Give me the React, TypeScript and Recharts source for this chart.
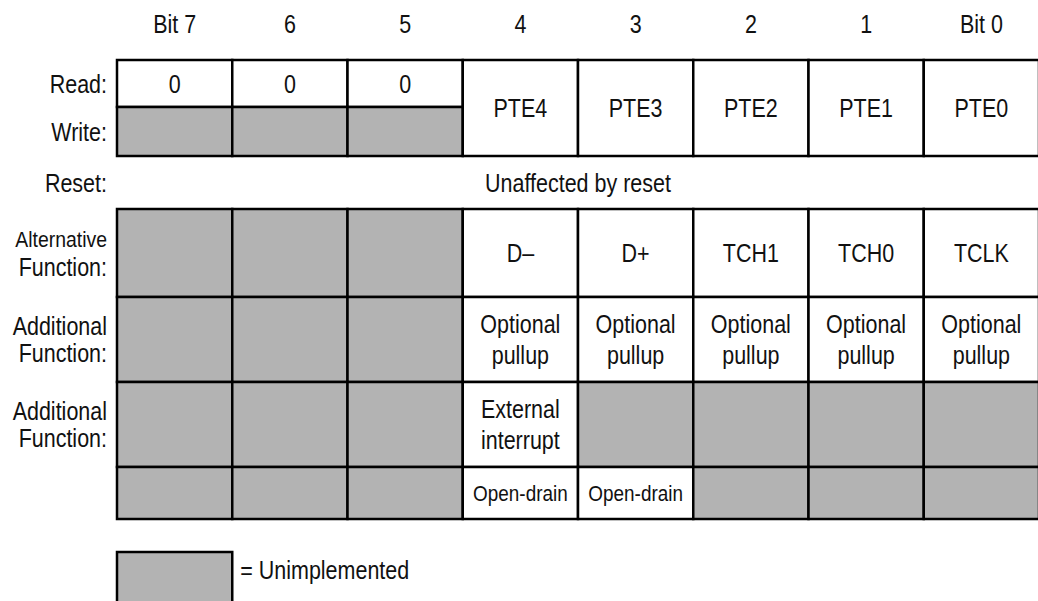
import { ComposedChart, XAxis, YAxis, ReferenceArea, Scatter } from "recharts"

// bit headers, left to right
const bitLabels = ["Bit 7", "6", "5", "4", "3", "2", "1", "Bit 0"]

// row labels (\n = line break)
const rowLabels = ["Read:", "Write:", "Reset:", "Alternative\nFunction:", "Additional\nFunction:", "Additional\nFunction:"]

// null = unimplemented bit
const readBits = ["0", "0", "0"] // bits 7..5
const writeBits: (string | null)[] = [null, null, null] // bits 7..5
const portBits = ["PTE4", "PTE3", "PTE2", "PTE1", "PTE0"] // bits 4..0, read + write
const resetText = "Unaffected by reset"
const altFunction = [null, null, null, "D–", "D+", "TCH1", "TCH0", "TCLK"]
const pullupFunction = [null, null, null, "Optional\npullup", "Optional\npullup", "Optional\npullup", "Optional\npullup", "Optional\npullup"]
const interruptFunction = [null, null, null, "External\ninterrupt", null, null, null, null]
const drainFunction = [null, null, null, "Open-drain", "Open-drain", null, null, null]
const legendText = "= Unimplemented"

// layout (px-ish row heights): read, write, reset, alt, add, add, drain, gap
const ROW_HEIGHTS = [47, 49, 53, 88, 85, 85, 52, 33]
const edges = ROW_HEIGHTS.reduce((acc, h) => [...acc, acc[acc.length - 1] + h], [0])
const Y_MAX = 541
// no narrow face installed, so squeeze Liberation Sans horizontally
const FONT = "'Liberation Sans', Arial, sans-serif"
const SX = 0.86
const GRAY = "#b3b3b3"
const FS = 25

type Cell = { col: number; r0: number; r1: number; text: string | null; size?: number }

const cells: Cell[] = []
readBits.forEach((t, i) => cells.push({ col: i, r0: 0, r1: 1, text: t }))
writeBits.forEach((t, i) => cells.push({ col: i, r0: 1, r1: 2, text: t }))
portBits.forEach((t, i) => cells.push({ col: 3 + i, r0: 0, r1: 2, text: t }))
altFunction.forEach((t, i) => cells.push({ col: i, r0: 3, r1: 4, text: t }))
pullupFunction.forEach((t, i) => cells.push({ col: i, r0: 4, r1: 5, text: t }))
interruptFunction.forEach((t, i) => cells.push({ col: i, r0: 5, r1: 6, text: t }))
drainFunction.forEach((t, i) => cells.push({ col: i, r0: 6, r1: 7, text: t, size: 22 }))

const rowCenter = (r: number) => (edges[r] + edges[r + 1]) / 2
const yTicks = rowLabels.map((_, i) => rowCenter(i))

// cell centres, so the axes have a series to hang on
const centers = cells.map(c => ({ x: c.col + 0.5, y: (edges[c.r0] + edges[c.r1]) / 2 }))

function Lines({ cx, cy, text, size = FS, anchor = "middle", lh = 31, sizes }: any) {
    const lines = String(text).split("\n")
    return (
        <g transform={`translate(${cx},${cy}) scale(${SX},1)`}>
            <text fontFamily={FONT} fill="#111" textAnchor={anchor}>
                {lines.map((ln, i) => {
                    const fs = sizes ? sizes[i] : size
                    return (
                        <tspan key={i} x={0} y={(i - (lines.length - 1) / 2) * lh + 0.36 * fs} fontSize={fs}>
                            {ln}
                        </tspan>
                    )
                })}
            </text>
        </g>
    )
}

function CellLabel({ viewBox, text, size }: any) {
    if (!viewBox || !text) return null
    const { x, y, width, height } = viewBox
    return <Lines cx={x + width / 2} cy={y + height / 2} text={text} size={size} />
}

function LegendLabel({ viewBox }: any) {
    if (!viewBox) return null
    const { x, y, width } = viewBox
    return <Lines cx={x + width + 8} cy={y + 18} text={legendText} anchor="start" />
}

function BitTick({ x, y, payload }: any) {
    const label = bitLabels[Math.floor(payload.value)]
    return <Lines cx={x} cy={y - 36} text={label} />
}

function RowTick({ x, y, payload }: any) {
    const idx = yTicks.indexOf(payload.value)
    const label = rowLabels[idx]
    if (!label) return null
    const sizes = label.startsWith("Alternative") ? [22.6, FS] : undefined
    return <Lines cx={x} cy={y} text={label} anchor="end" lh={28} sizes={sizes} />
}

export default function App() {
    return (
        <div style={{ position: "absolute", left: 0, top: 0, width: 1038, height: 601, overflow: "hidden", background: "#fff" }}>
            <ComposedChart width={1039} height={601} data={centers} margin={{ top: 0, right: 0, bottom: 0, left: 0 }}>
                <XAxis
                    xAxisId="bits"
                    dataKey="x"
                    type="number"
                    orientation="top"
                    domain={[0, 8]}
                    allowDataOverflow
                    ticks={bitLabels.map((_, i) => i + 0.5)}
                    interval={0}
                    height={60}
                    tickSize={0}
                    tickMargin={0}
                    tickLine={false}
                    axisLine={false}
                    tick={<BitTick />}
                />
                <YAxis
                    yAxisId="rows"
                    dataKey="y"
                    type="number"
                    domain={[0, Y_MAX]}
                    allowDataOverflow
                    reversed
                    ticks={yTicks}
                    interval={0}
                    width={117}
                    tickSize={0}
                    tickMargin={10}
                    tickLine={false}
                    axisLine={false}
                    tick={<RowTick />}
                />
                {cells.map((c, i) => (
                    <ReferenceArea
                        key={i}
                        xAxisId="bits"
                        yAxisId="rows"
                        x1={c.col}
                        x2={c.col + 1}
                        y1={edges[c.r0]}
                        y2={edges[c.r1]}
                        fill={c.text ? "#fff" : GRAY}
                        fillOpacity={1}
                        stroke="#000"
                        strokeWidth={2.5}
                        ifOverflow="visible"
                        label={<CellLabel text={c.text} size={c.size} />}
                    />
                ))}
                <ReferenceArea
                    xAxisId="bits"
                    yAxisId="rows"
                    x1={0}
                    x2={8}
                    y1={edges[2]}
                    y2={edges[3]}
                    fill="none"
                    stroke="none"
                    ifOverflow="visible"
                    label={<CellLabel text={resetText} />}
                />
                <ReferenceArea
                    xAxisId="bits"
                    yAxisId="rows"
                    x1={0}
                    x2={1}
                    y1={edges[8]}
                    y2={Y_MAX + 30}
                    fill={GRAY}
                    fillOpacity={1}
                    stroke="#000"
                    strokeWidth={2.5}
                    ifOverflow="visible"
                    label={<LegendLabel />}
                />
                <Scatter
                    xAxisId="bits"
                    yAxisId="rows"
                    dataKey="y"
                    fill="none"
                    shape={() => null}
                    isAnimationActive={false}
                />
            </ComposedChart>
        </div>
    )
}
